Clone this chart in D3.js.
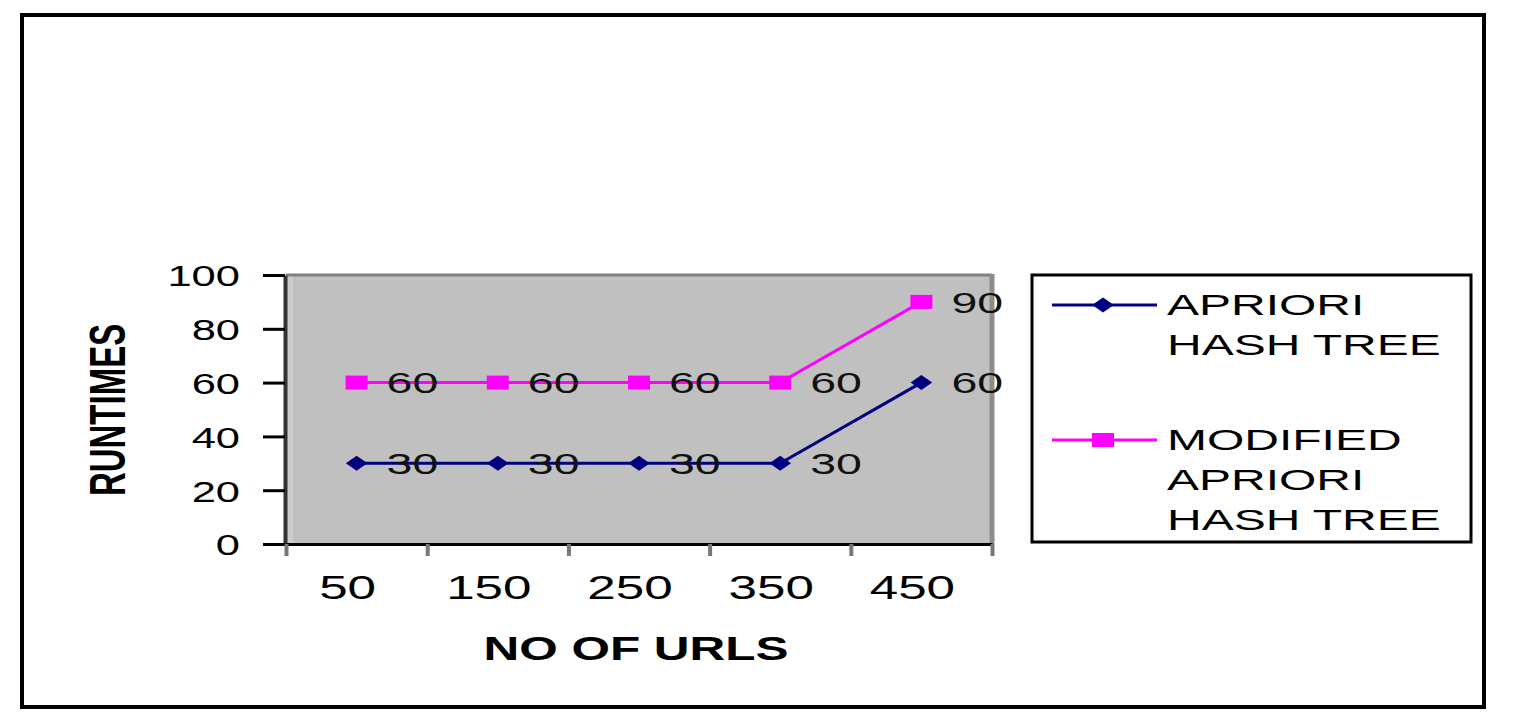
<!DOCTYPE html>
<html>
<head>
<meta charset="utf-8">
<script src="https://cdn.jsdelivr.net/npm/d3@7"></script>
<style>
	body { margin: 0; background: #fff; }
	svg { display: block; }
	text { font-family: "Liberation Sans", Arial, sans-serif; }
</style>
</head>
<body>
<svg width="1520" height="725"></svg>
<script>
var urls = ["50", "150", "250", "350", "450"];
var apriori = [30, 30, 30, 30, 60];
var modified = [60, 60, 60, 60, 90];
var yTicks = [0, 20, 40, 60, 80, 100];
var legendNames = [["APRIORI", "HASH TREE"], ["MODIFIED", "APRIORI", "HASH TREE"]];

var svg = d3.select("svg");
// note: "top" is taken by window.top, so use other names
var pLeft = 286, pRight = 992, pTop = 275, pBottom = 544;

var x = d3.scaleBand().domain(urls).range([pLeft, pRight]);
var xEdge = d3.scaleLinear().domain([0, urls.length]).range([pLeft, pRight]);
var y = d3.scaleLinear().domain([0, 100]).range([pBottom, pTop]);
var cx = function(i) { return x(urls[i]) + x.bandwidth() / 2; };

// outer frame
svg.append("rect")
	.attr("x", 22).attr("y", 15)
	.attr("width", 1462).attr("height", 692)
	.attr("fill", "none").attr("stroke", "#000").attr("stroke-width", 4);

// plot area
svg.append("rect")
	.attr("x", pLeft).attr("y", pTop)
	.attr("width", pRight - pLeft).attr("height", pBottom - pTop)
	.attr("fill", "#c0c0c0");
svg.append("rect") // light strip next to the y axis
	.attr("x", pLeft + 1).attr("y", pTop)
	.attr("width", 6).attr("height", pBottom - pTop)
	.attr("fill", "#cdcdcd");
svg.append("line")
	.attr("x1", pLeft).attr("x2", pRight).attr("y1", pTop).attr("y2", pTop)
	.attr("stroke", "#808080").attr("stroke-width", 3);
svg.append("line")
	.attr("x1", pRight).attr("x2", pRight).attr("y1", pTop - 1).attr("y2", pBottom)
	.attr("stroke", "#8c8c8c").attr("stroke-width", 5);

// y axis
var yAxis = svg.append("g")
	.attr("transform", "translate(" + (pLeft - 1) + ",0)")
	.call(d3.axisLeft(y).tickValues(yTicks).tickSize(22).tickSizeOuter(0));
yAxis.select(".domain").attr("stroke", "#333").attr("stroke-width", 4);
yAxis.selectAll(".tick line").attr("stroke", "#000").attr("stroke-width", 3);
yAxis.selectAll(".tick text")
	.attr("font-size", 30).attr("fill", "#000")
	.attr("text-anchor", "end")
	.attr("x", -45 / 1.45).attr("dy", "0.36em")
	.attr("transform", "scale(1.45,1)");

// x axis, ticks between the categories
var xAxis = svg.append("g")
	.attr("transform", "translate(0," + pBottom + ")")
	.call(d3.axisBottom(xEdge).tickValues(d3.range(urls.length + 1)).tickSize(12).tickSizeOuter(0).tickFormat(""));
xAxis.select(".domain").attr("stroke", "#000").attr("stroke-width", 3);
xAxis.selectAll(".tick line").attr("stroke", "#777").attr("stroke-width", 4);

// x labels under the band centres
var xLabels = svg.append("g")
	.attr("transform", "translate(0," + pBottom + ")")
	.call(d3.axisBottom(x).tickSize(0));
xLabels.select(".domain").remove();
xLabels.selectAll(".tick text")
	.attr("font-size", 33).attr("fill", "#000")
	.attr("x", -9 / 1.55).attr("y", 55).attr("dy", 0)
	.attr("transform", "scale(1.55,1)");

// axis titles
svg.append("text")
	.attr("transform", "translate(636,660) scale(1.5,1)")
	.attr("text-anchor", "middle")
	.attr("font-size", 33).attr("font-weight", "bold")
	.text("NO OF URLS");
svg.append("text")
	.attr("transform", "translate(125,410) scale(1.5,1) rotate(-90)")
	.attr("text-anchor", "middle")
	.attr("font-size", 33).attr("font-weight", "bold")
	.text("RUNTIMES");

// series
var line = d3.line().x(function(d, i) { return cx(i); }).y(function(d) { return y(d); });
var series = [
	{ values: apriori, color: "#000080", marker: "diamond" },
	{ values: modified, color: "#ff00ff", marker: "square" }
];

function drawMarker(g, s) {
	if (s.marker == "square") {
		g.append("rect")
			.attr("x", -11).attr("y", -7).attr("width", 22).attr("height", 14)
			.attr("fill", s.color);
	} else {
		g.append("path")
			.attr("d", d3.symbol(d3.symbolDiamond, 65)())
			.attr("transform", "scale(2.5,1)")
			.attr("fill", s.color);
	}
}

series.forEach(function(s) {
	svg.append("path")
		.datum(s.values)
		.attr("d", line)
		.attr("fill", "none")
		.attr("stroke", s.color)
		.attr("stroke-width", 3);

	var pts = svg.append("g").selectAll("g")
		.data(s.values)
		.enter().append("g")
		.attr("transform", function(d, i) { return "translate(" + cx(i) + "," + y(d) + ")"; });
	pts.each(function() { drawMarker(d3.select(this), s); });

	svg.append("g").selectAll("text")
		.data(s.values)
		.enter().append("text")
		.attr("transform", function(d, i) { return "translate(" + (cx(i) + 30) + "," + y(d) + ") scale(1.55,1)"; })
		.attr("dy", "0.36em")
		.attr("font-size", 30).attr("fill", "#111")
		.text(function(d) { return d; });
});

// legend
svg.append("rect")
	.attr("x", 1032).attr("y", 275)
	.attr("width", 439).attr("height", 267)
	.attr("fill", "#fff").attr("stroke", "#000").attr("stroke-width", 3);

var legendY = [305, 440];
series.forEach(function(s, k) {
	var g = svg.append("g").attr("transform", "translate(0," + legendY[k] + ")");
	g.append("line")
		.attr("x1", 1052).attr("x2", 1157)
		.attr("stroke", s.color).attr("stroke-width", 3);
	var m = g.append("g").attr("transform", "translate(1103,0)");
	drawMarker(m, s);
	g.selectAll("text")
		.data(legendNames[k])
		.enter().append("text")
		.attr("transform", function(d, i) { return "translate(1167," + (10 + 40 * i) + ") scale(1.6,1)"; })
		.attr("font-size", 30).attr("fill", "#000")
		.text(function(d) { return d; });
});
</script>
</body>
</html>
